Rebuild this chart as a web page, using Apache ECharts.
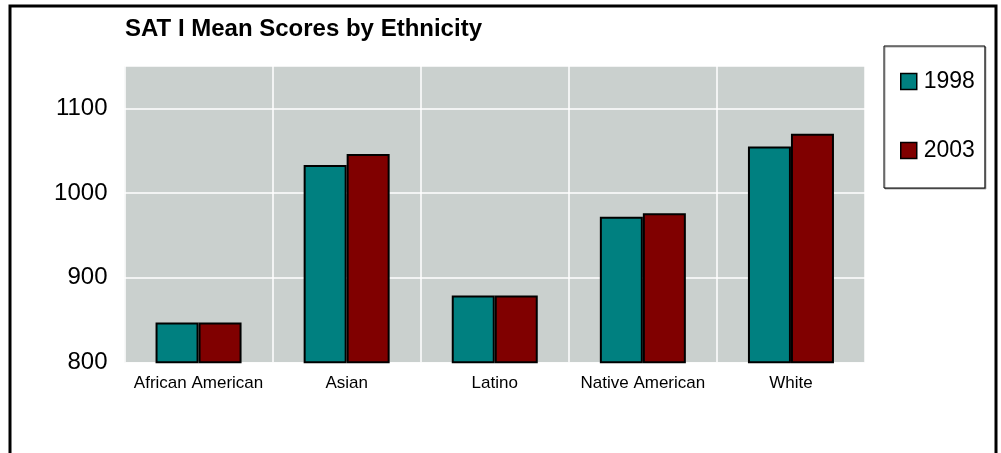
<!DOCTYPE html>
<html>
<head>
<meta charset="utf-8">
<script src="https://cdn.jsdelivr.net/npm/echarts@6/dist/echarts.min.js"></script>
<style>
html,body{margin:0;padding:0;background:#fff;}
#chart{width:1001px;height:453px;}
</style>
</head>
<body>
<div id="chart"></div>
<script>
const title = 'SAT I Mean Scores by Ethnicity';
const categories = ['African American', 'Asian', 'Latino', 'Native American', 'White'];
const seriesNames = ['1998', '2003'];
const values1998 = [847, 1033, 879, 972, 1055];
const values2003 = [847, 1046, 879, 976, 1070];
const yTicks = [800, 900, 1000, 1100];

const chart = echarts.init(document.getElementById('chart'), null, {renderer: 'canvas'});
const font = '"Liberation Sans", Arial, sans-serif';
const option = {
  animation: false,
  backgroundColor: '#ffffff',
  title: {
    text: title,
    left: 120,
    top: 12,
    textStyle: {fontFamily: font, fontSize: 24, fontWeight: 'bold', color: '#000'}
  },
  legend: {
    orient: 'vertical',
    left: 884,
    top: 46,
    padding: [24, 10, 26, 16],
    itemGap: 46,
    itemWidth: 16,
    itemHeight: 16,
    icon: 'rect',
    borderColor: '#000',
    borderWidth: 1,
    backgroundColor: '#fff',
    shadowColor: 'rgba(0,0,0,0.35)',
    shadowOffsetX: 1,
    shadowOffsetY: 1,
    itemStyle: {borderColor: '#000', borderWidth: 1.5},
    textStyle: {fontFamily: font, fontSize: 23, color: '#000', padding: [0, 0, 0, 2]},
    data: seriesNames
  },
  grid: {
    left: 124.5,
    right: 136,
    top: 66,
    bottom: 90.7,
    show: true,
    backgroundColor: '#CAD0CE',
    borderWidth: 0
  },
  xAxis: {
    type: 'category',
    data: categories,
    axisLine: {show: false},
    axisTick: {show: false},
    splitLine: {show: true, interval: 0, lineStyle: {color: '#ffffff', width: 1.5}},
    axisLabel: {fontFamily: font, fontSize: 17, color: '#000', margin: 13, interval: 0}
  },
  yAxis: {
    type: 'value',
    min: 800,
    max: 1150,
    interval: 100,
    axisLine: {show: false},
    axisTick: {show: false},
    splitLine: {show: true, lineStyle: {color: '#ffffff', width: 1.5}},
    axisLabel: {
      fontFamily: font, fontSize: 24, color: '#000', margin: 17,
      showMaxLabel: false,
      formatter: v => yTicks.includes(v) ? String(v) : ''
    }
  },
  graphic: [{
    type: 'polyline',
    shape: {points: [[10, 470], [10, 6], [996, 6], [996, 470]]},
    style: {stroke: '#000', lineWidth: 3, fill: null},
    z: 100
  }],
  series: [
    {
      name: seriesNames[0], type: 'bar', data: values1998,
      barWidth: 43, barGap: '0%',
      itemStyle: {color: '#008080', borderColor: '#000', borderWidth: 2}
    },
    {
      name: seriesNames[1], type: 'bar', data: values2003,
      barWidth: 43, barGap: '0%',
      itemStyle: {color: '#800000', borderColor: '#000', borderWidth: 2}
    }
  ]
};
chart.setOption(option);
</script>
</body>
</html>
